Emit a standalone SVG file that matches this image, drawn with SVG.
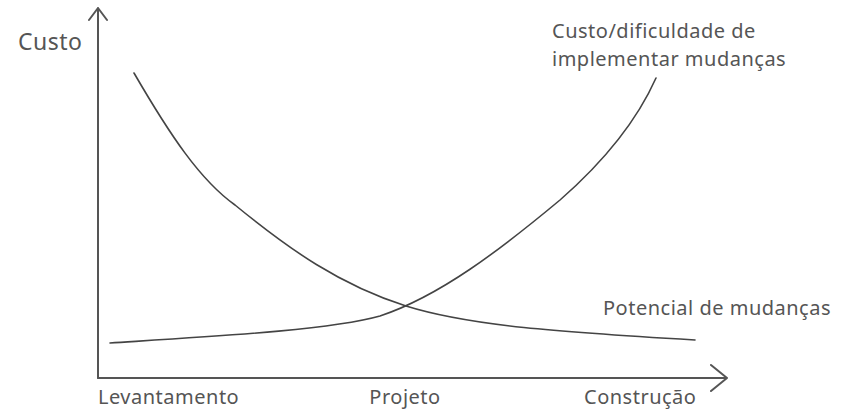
<svg xmlns="http://www.w3.org/2000/svg" width="848" height="411" viewBox="0 0 848 411">
<style>
.ax{fill:none;stroke:#555;stroke-width:2;stroke-linecap:round;stroke-linejoin:round}
.cv{fill:none;stroke:#444;stroke-width:1.6;stroke-linecap:round}
text{font-family:"Noto Sans","Open Sans",sans-serif;fill:#555;font-size:20px;letter-spacing:0.5px}
</style>
<rect width="848" height="411" fill="#fff"/>
<g id="axes">
<path class="ax" d="M98,378 V8 M89,20 L98,8 L107,20"/>
<path class="ax" d="M98,378 H727 M711,365 L727,378 L711,391"/>
</g>
<g id="connectors">
<path id="decreasing" class="cv" d="M134,73 C170,135 200,180 235,205 C290,250 340,285 406,306 C470,326 560,332 695,340"/>
<path id="increasing" class="cv" d="M110,343 C220,336 330,330 380,316 C440,296 500,250 560,200 C600,165 635,125 656,78"/>
</g>
<g id="labels">
<text x="18" y="50" style="font-size:23px">Custo</text>
<text x="552" y="38">Custo/dificuldade de</text>
<text x="552" y="66">implementar mudanças</text>
<text x="603" y="315">Potencial de mudanças</text>
<text x="98" y="404">Levantamento</text>
<text x="405" y="404" text-anchor="middle">Projeto</text>
<text x="584" y="404">Construção</text>
</g>
</svg>
